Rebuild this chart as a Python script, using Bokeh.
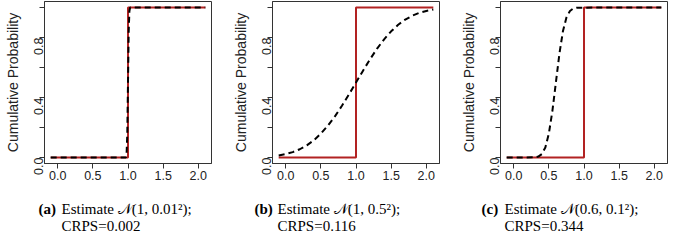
import math
from bokeh.plotting import figure
from bokeh.layouts import column, row
from bokeh.models import Range1d, FixedTicker, PrintfTickFormatter
from bokeh.core.properties import value
from bokeh.embed import file_html
from bokeh.resources import INLINE

# ---- data ----
obs_x = [-0.1, 1.0, 1.0, 2.1]
obs_y = [0.0, 0.0, 1.0, 1.0]

est_a_x = [-0.1, 0.97, 0.98, 0.99, 1.0, 1.01, 1.02, 1.03, 2.1]
est_a_y = [0.0, 0.0, 0.023, 0.159, 0.5, 0.841, 0.977, 1.0, 1.0]

est_b_x = [-0.1, 0.0, 0.1, 0.2, 0.3, 0.4, 0.5, 0.6, 0.7, 0.8, 0.9, 1.0,
           1.1, 1.2, 1.3, 1.4, 1.5, 1.6, 1.7, 1.8, 1.9, 2.0, 2.1]
est_b_y = [0.014, 0.023, 0.036, 0.055, 0.081, 0.115, 0.159, 0.212, 0.274, 0.345,
           0.421, 0.5, 0.579, 0.655, 0.726, 0.788, 0.841, 0.885, 0.919, 0.945,
           0.964, 0.977, 0.986]

est_c_x = [-0.1, 0.3, 0.35, 0.4, 0.45, 0.5, 0.55, 0.6, 0.65, 0.7, 0.75, 0.8, 0.85, 0.9, 2.1]
est_c_y = [0.0, 0.001, 0.006, 0.023, 0.067, 0.159, 0.309, 0.5, 0.691, 0.841, 0.933,
           0.977, 0.994, 0.999, 1.0]

x_ticks = [0, 0.5, 1, 1.5, 2]
y_ticks = [0, 0.2, 0.4, 0.6, 0.8, 1]
y_tick_labels = {0: "0.0", 0.2: "", 0.4: "0.4", 0.6: "", 0.8: "0.8", 1: ""}

cap_tags = ["(a)", "(b)", "(c)"]
cap_est = ["Estimate 𝒩(1, 0.01²);", "Estimate  𝒩(1, 0.5²);", "Estimate 𝒩(0.6, 0.1²);"]
cap_crps = ["CRPS=0.002", "CRPS=0.116", "CRPS=0.344"]

SANS = "Liberation Sans"
SERIF = "Liberation Serif"


def panel(xs, ys, width, right):
    p = figure(width=width, height=186, title=None,
               x_range=Range1d(-0.188, 2.188), y_range=Range1d(-0.04, 1.04),
               output_backend="svg", toolbar_location=None,
               min_border_left=44, min_border_right=right,
               min_border_top=1, min_border_bottom=23)
    p.grid.visible = False
    p.background_fill_color = "white"
    p.border_fill_color = "white"
    p.outline_line_color = "#333333"
    p.outline_line_width = 1
    p.line(obs_x, obs_y, line_color="#B22222", line_width=2)
    p.line(xs, ys, line_color="black", line_width=2, line_dash="6 4")

    for ax in (p.xaxis[0], p.yaxis[0]):
        ax.axis_line_color = "#333333"
        ax.major_tick_line_color = "#333333"
        ax.major_tick_in = 0
        ax.major_tick_out = 5
        ax.minor_tick_line_color = None
        ax.major_label_text_font = SANS
        ax.major_label_text_font_size = "12.5px"
        ax.major_label_text_color = "#222222"

    p.xaxis.ticker = FixedTicker(ticks=x_ticks)
    p.xaxis.formatter = PrintfTickFormatter(format="%.1f")
    p.xaxis.major_label_standoff = 2

    p.yaxis.ticker = FixedTicker(ticks=y_ticks)
    p.yaxis.formatter = PrintfTickFormatter(format="%.1f")
    p.yaxis.major_label_overrides = y_tick_labels
    p.yaxis.major_label_orientation = math.pi / 2
    p.yaxis.major_label_standoff = 1
    p.yaxis.axis_label = "Cumulative Probability"
    p.yaxis.axis_label_text_font = SANS
    p.yaxis.axis_label_text_font_size = "14px"
    p.yaxis.axis_label_text_font_style = "normal"
    p.yaxis.axis_label_text_color = "#222222"
    p.yaxis.axis_label_standoff = 6
    return p


pa = panel(est_a_x, est_a_y, 228, 17)
pb = panel(est_b_x, est_b_y, 228, 17)
pc = panel(est_c_x, est_c_y, 212, 1)

# caption strip
CAP_H = 47
cap = figure(width=668, height=CAP_H, title=None,
             x_range=Range1d(0, 668), y_range=Range1d(CAP_H, 0),
             output_backend="svg", toolbar_location=None,
             min_border=0, x_axis_location=None, y_axis_location=None)
cap.grid.visible = False
cap.outline_line_color = None
cap.background_fill_color = "white"
cap.border_fill_color = "white"

tag_x = [38, 254, 481]
cap.text(x=tag_x, y=[22] * 3, text=cap_tags, text_font=value(SERIF),
         text_font_style="bold", text_font_size="15px", text_color="black",
         text_baseline="alphabetic")
cap.text(x=[t + 23 for t in tag_x], y=[22] * 3, text=cap_est, text_font=value(SERIF),
         text_font_size="15px", text_color="black", text_baseline="alphabetic")
cap.text(x=[t + 23 for t in tag_x], y=[39] * 3, text=cap_crps, text_font=value(SERIF),
         text_font_size="15px", text_color="black", text_baseline="alphabetic")

layout = column(row(pa, pb, pc, spacing=0), cap, spacing=0)

open("out.html", "w").write(file_html(layout, INLINE))
